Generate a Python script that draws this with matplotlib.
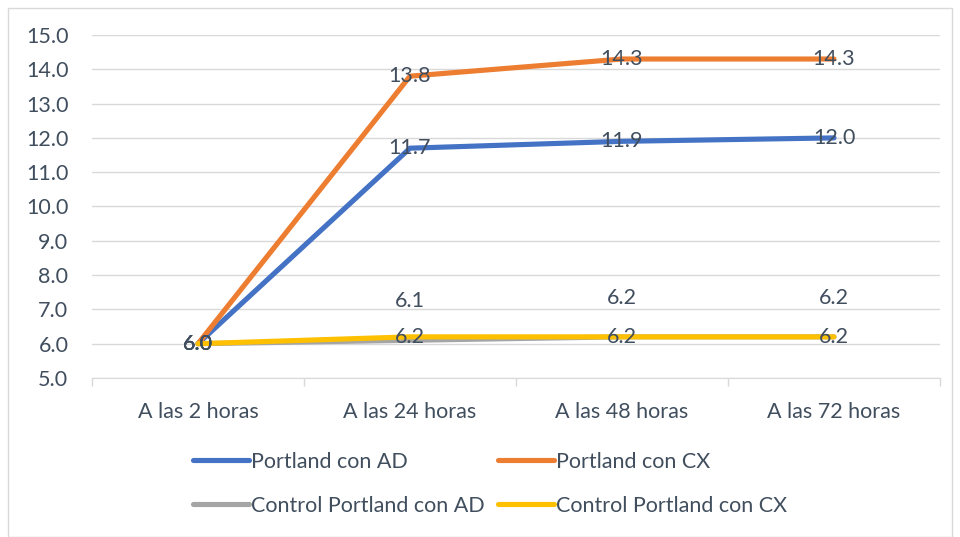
#plot pH evolution for the portland mixes
import matplotlib.pyplot as plt
from matplotlib.patches import Rectangle
import numpy as np

categorias = ['A las 2 horas', 'A las 24 horas', 'A las 48 horas', 'A las 72 horas']
portland_ad = [6.0, 11.7, 11.9, 12.0]
portland_cx = [6.0, 13.8, 14.3, 14.3]
control_ad = [6.0, 6.1, 6.2, 6.2]
control_cx = [6.0, 6.2, 6.2, 6.2]

text_color = '#404E5E'
fs = 15.5
plt.rcParams['font.family'] = ['Lato', 'DejaVu Sans']

fig = plt.figure(figsize=(9.6, 5.37), dpi=100)
ax = fig.add_axes([92 / 960, 1 - 378 / 537, 848 / 960, 343 / 537])

# light frame around the whole chart area
fig.patches.append(Rectangle((8 / 960, 0), 944 / 960, 1 - 8 / 537, transform=fig.transFigure,
                             fill=False, edgecolor='#D9D9D9', linewidth=1))

x = np.arange(len(categorias))
series = [
    ('Portland con AD', portland_ad, '#4472C4'),
    ('Portland con CX', portland_cx, '#ED7D31'),
    ('Control Portland con AD', control_ad, '#A5A5A5'),
    ('Control Portland con CX', control_cx, '#FFC000'),
]
handles = {}
for name, vals, color in series:
    h, = ax.plot(x, vals, color=color, linewidth=3.7, solid_capstyle='round', label=name)
    handles[name] = h

# data labels
for name, vals, color in series:
    for xi, v in zip(x, vals):
        dy = 0
        if name == 'Control Portland con AD' and xi > 0:
            dy = 28
        ax.annotate(f'{v:.1f}', (xi, v), xytext=(0, dy), textcoords='offset points',
                    ha='center', va='center', fontsize=fs, color=text_color)

ax.set_xlim(-0.5, 3.5)
ax.set_ylim(5, 15)
ax.set_yticks(np.arange(5, 15.1, 1))
ax.set_yticklabels([f'{v:.1f}' for v in np.arange(5, 15.1, 1)])
ax.set_xticks(x)
ax.set_xticklabels(categorias)
ax.set_xticks(np.arange(-0.5, 3.6, 1), minor=True)
ax.tick_params(axis='x', which='major', length=0, pad=17, labelsize=fs, labelcolor=text_color)
ax.tick_params(axis='x', which='minor', length=6, color='#D9D9D9', width=1)
ax.tick_params(axis='y', length=0, pad=17, labelsize=fs, labelcolor=text_color)
for s in ['left', 'right', 'top']:
    ax.spines[s].set_visible(False)
ax.spines['bottom'].set_color('#D9D9D9')
ax.grid(axis='y', color='#D9D9D9', linewidth=1)
ax.set_axisbelow(True)

order = ['Portland con AD', 'Control Portland con AD', 'Portland con CX', 'Control Portland con CX']
fig.legend([handles[n] for n in order], order, ncol=2, loc='upper left',
           bbox_to_anchor=(193 / 960, 1 - 452 / 537), frameon=False,
           fontsize=fs, labelcolor=text_color, handlelength=2.6, handletextpad=0.1,
           columnspacing=0.6, labelspacing=1.1, borderpad=0, borderaxespad=0)

fig.savefig('out.png', dpi=100)
